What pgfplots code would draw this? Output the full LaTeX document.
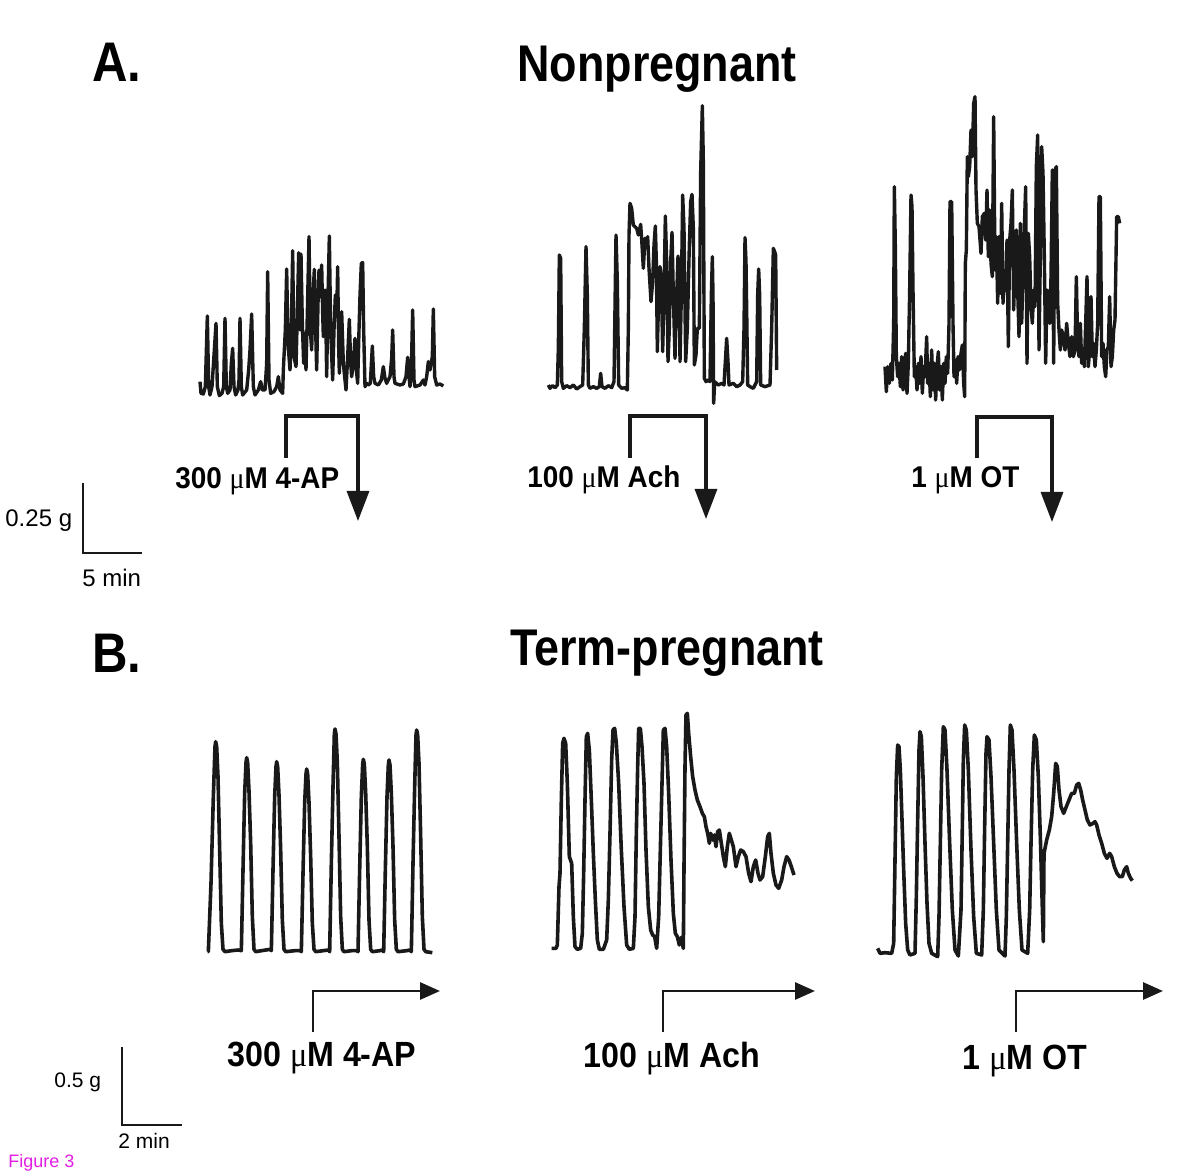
\documentclass[border=0pt]{standalone}
\usepackage{pgfplots}
\pgfplotsset{compat=1.18}
\usepackage{graphicx}
\usepackage{fontspec}
\setmainfont{Liberation Sans}
\newfontfamily\serifmu{Liberation Serif}
\usetikzlibrary{arrows.meta}
\definecolor{trace}{RGB}{25,25,25}
\definecolor{figmag}{RGB}{225,30,225}
\newcommand{\umu}{{\serifmu\mdseries μ}}
\newcommand{\bigtitle}[1]{\fontsize{25.8}{30}\selectfont\bfseries\scalebox{0.87}[1]{#1}}
\newcommand{\lettertitle}[1]{\fontsize{27.9}{32}\selectfont\bfseries\scalebox{0.88}[1]{#1}}
\newcommand{\druga}[1]{\fontsize{15}{18}\selectfont\bfseries\scalebox{0.93}[1]{#1}}
\newcommand{\drugb}[1]{\fontsize{17.5}{21}\selectfont\bfseries\scalebox{0.92}[1]{#1}}
\begin{document}
\begin{tikzpicture}
\begin{axis}[
  scale only axis, width=600pt, height=588pt,
  xmin=0, xmax=1200, ymin=0, ymax=1176, y dir=reverse,
  hide axis, clip=false,
  tra/.style={trace, solid, line width=1.7pt, line join=round, no markers},
  trb/.style={trace, solid, line width=1.8pt, line join=round, no markers},
]
% ---------------- A1 (Nonpregnant, 4-AP) ----------------
\addplot[tra] table[header=false, row sep=\\, x expr=190+\thisrowno{0}/3, y expr=230+\thisrowno{1}/3] {
30 455\\ 33 490\\ 40 492\\ 46 470\\ 52 258\\ 56 470\\ 60 495\\ 66 470\\ 73 360\\ 78 280\\ 82 470\\ 88 497\\ 96 490\\ 101 470\\ 105 265\\ 109 470\\ 113 490\\ 120 480\\ 124 400\\ 128 355\\ 132 470\\ 137 495\\ 144 480\\ 147 450\\ 150 265\\ 154 470\\ 158 495\\ 170 480\\ 176 420\\ 180 360\\ 185 252\\ 190 470\\ 195 495\\ 205 480\\ 212 455\\ 217 480\\ 225 480\\ 230 400\\ 233 125\\ 237 450\\ 242 490\\ 252 485\\ 260 470\\ 265 440\\ 270 480\\ 278 490\\ 280 420\\ 286 300\\ 290 117\\ 294 340\\ 300 420\\ 304 300\\ 308 62\\ 312 380\\ 318 410\\ 322 250\\ 326 68\\ 330 300\\ 333 72\\ 337 280\\ 341 400\\ 344 310\\ 348 420\\ 352 250\\ 357 20\\ 361 300\\ 365 360\\ 369 200\\ 373 118\\ 377 300\\ 380 420\\ 384 220\\ 387 120\\ 391 200\\ 395 105\\ 398 250\\ 400 320\\ 403 250\\ 405 180\\ 408 300\\ 410 440\\ 414 200\\ 418 18\\ 422 300\\ 428 450\\ 432 300\\ 436 195\\ 440 260\\ 443 110\\ 446 350\\ 448 430\\ 452 300\\ 455 245\\ 460 400\\ 468 480\\ 473 380\\ 478 268\\ 482 400\\ 485 440\\ 490 400\\ 495 325\\ 499 420\\ 503 460\\ 507 300\\ 510 195\\ 514 100\\ 518 98\\ 521 300\\ 525 470\\ 530 460\\ 535 465\\ 541 460\\ 547 348\\ 551 440\\ 555 460\\ 565 465\\ 574 450\\ 580 410\\ 585 445\\ 590 460\\ 600 440\\ 605 385\\ 608 300\\ 612 440\\ 615 460\\ 630 465\\ 640 462\\ 648 440\\ 653 382\\ 657 440\\ 660 470\\ 664 420\\ 668 240\\ 672 450\\ 675 470\\ 690 465\\ 700 450\\ 705 465\\ 710 440\\ 715 395\\ 720 420\\ 727 380\\ 730 237\\ 734 440\\ 740 465\\ 750 462\\ 760 468\\
};
% ---------------- A2 (Nonpregnant, Ach) ----------------
\addplot[tra] table[header=false, row sep=\\, x expr=540+\thisrowno{0}/3, y expr=95+\thisrowno{1}/3] {
25 870\\ 30 880\\ 38 872\\ 45 878\\ 52 870\\ 55 760\\ 58 480\\ 62 490\\ 65 860\\ 70 880\\ 80 872\\ 90 878\\ 100 870\\ 110 882\\ 120 875\\ 128 870\\ 133 700\\ 138 455\\ 142 600\\ 145 870\\ 150 880\\ 160 875\\ 170 880\\ 178 875\\ 182 835\\ 186 875\\ 195 880\\ 205 872\\ 215 878\\ 222 860\\ 226 560\\ 228 420\\ 232 560\\ 236 870\\ 245 880\\ 255 878\\ 262 885\\ 265 700\\ 267 420\\ 270 325\\ 275 340\\ 280 390\\ 285 395\\ 290 400\\ 295 420\\ 302 388\\ 306 450\\ 310 520\\ 315 430\\ 320 440\\ 323 425\\ 327 520\\ 333 620\\ 338 560\\ 342 450\\ 346 393\\ 349 500\\ 352 770\\ 356 600\\ 360 515\\ 364 560\\ 368 770\\ 372 600\\ 376 363\\ 380 500\\ 384 800\\ 388 700\\ 392 500\\ 396 412\\ 400 600\\ 405 790\\ 410 600\\ 414 483\\ 418 600\\ 420 800\\ 424 600\\ 428 300\\ 432 400\\ 437 800\\ 442 700\\ 448 450\\ 452 320\\ 456 298\\ 460 400\\ 463 810\\ 468 780\\ 472 700\\ 478 700\\ 482 230\\ 487 32\\ 490 200\\ 493 850\\ 498 860\\ 505 855\\ 510 860\\ 514 600\\ 517 485\\ 519 600\\ 521 925\\ 524 860\\ 535 870\\ 545 865\\ 552 870\\ 556 800\\ 560 730\\ 564 800\\ 567 870\\ 580 865\\ 590 875\\ 600 870\\ 608 860\\ 612 700\\ 615 428\\ 618 500\\ 620 640\\ 623 870\\ 630 875\\ 640 880\\ 650 860\\ 653 600\\ 656 522\\ 659 600\\ 662 870\\ 675 875\\ 690 870\\ 695 700\\ 700 460\\ 704 470\\ 707 480\\ 710 825\\
};
% ---------------- A3 (Nonpregnant, OT) ----------------
\addplot[tra] table[header=false, row sep=\\, x expr=875+\thisrowno{0}/3, y expr=90+\thisrowno{1}/3] {
30 830\\ 34 905\\ 38 830\\ 43 880\\ 48 820\\ 52 870\\ 56 700\\ 58 290\\ 61 470\\ 64 800\\ 68 860\\ 72 820\\ 76 890\\ 80 800\\ 84 900\\ 88 830\\ 92 790\\ 96 910\\ 100 820\\ 104 600\\ 108 315\\ 111 350\\ 114 600\\ 118 860\\ 122 830\\ 126 900\\ 130 820\\ 134 880\\ 138 800\\ 142 910\\ 146 830\\ 150 860\\ 155 740\\ 158 880\\ 162 820\\ 166 920\\ 170 780\\ 174 900\\ 178 820\\ 182 930\\ 186 830\\ 190 785\\ 194 900\\ 198 830\\ 202 930\\ 206 820\\ 210 880\\ 214 800\\ 218 850\\ 222 700\\ 225 335\\ 230 335\\ 234 700\\ 237 860\\ 241 810\\ 245 880\\ 249 800\\ 253 840\\ 258 790\\ 262 765\\ 266 880\\ 269 920\\ 271 520\\ 274 480\\ 277 200\\ 280 260\\ 284 230\\ 288 120\\ 292 200\\ 296 40\\ 300 20\\ 303 300\\ 307 400\\ 312 410\\ 318 490\\ 322 380\\ 328 370\\ 332 450\\ 336 300\\ 340 500\\ 344 360\\ 348 520\\ 352 560\\ 356 80\\ 360 540\\ 364 440\\ 368 640\\ 372 440\\ 376 610\\ 380 340\\ 384 640\\ 388 560\\ 392 600\\ 396 450\\ 400 770\\ 404 450\\ 408 400\\ 412 300\\ 416 660\\ 420 530\\ 424 420\\ 428 600\\ 432 740\\ 436 400\\ 440 700\\ 444 560\\ 448 410\\ 452 290\\ 456 820\\ 460 430\\ 464 500\\ 468 650\\ 472 700\\ 476 600\\ 480 650\\ 484 230\\ 488 135\\ 492 780\\ 496 500\\ 500 170\\ 504 250\\ 508 500\\ 512 820\\ 516 600\\ 520 650\\ 524 700\\ 528 560\\ 532 240\\ 536 820\\ 540 240\\ 544 230\\ 548 640\\ 552 720\\ 556 780\\ 560 720\\ 565 740\\ 570 780\\ 575 700\\ 580 760\\ 585 800\\ 590 740\\ 595 800\\ 600 780\\ 604 560\\ 608 760\\ 612 800\\ 616 700\\ 620 820\\ 624 780\\ 628 830\\ 632 700\\ 636 560\\ 640 830\\ 644 780\\ 648 620\\ 652 800\\ 656 760\\ 660 830\\ 664 780\\ 668 700\\ 672 320\\ 676 320\\ 680 800\\ 684 760\\ 688 830\\ 692 860\\ 696 780\\ 700 770\\ 704 620\\ 708 830\\ 712 800\\ 716 720\\ 720 690\\ 725 380\\ 730 380\\ 734 400\\
};
% ---------------- B1 (Term-pregnant, 4-AP) ----------------
\addplot[trb] table[header=false, row sep=\\, x expr=195+\thisrowno{0}/3, y expr=710+\thisrowno{1}/3] {
38 725\\ 40 725\\ 48 520\\ 55 260\\ 60 110\\ 62 95\\ 65 110\\ 69 200\\ 74 420\\ 79 640\\ 84 718\\ 90 725\\ 110 722\\ 130 720\\ 139 722\\ 144 480\\ 149 250\\ 153 158\\ 155 143\\ 158 158\\ 162 243\\ 167 400\\ 172 620\\ 177 718\\ 182 725\\ 200 722\\ 225 718\\ 229 722\\ 234 480\\ 239 260\\ 243 170\\ 245 155\\ 248 170\\ 252 255\\ 257 420\\ 262 630\\ 267 718\\ 272 725\\ 300 722\\ 315 722\\ 319 725\\ 324 490\\ 329 280\\ 333 192\\ 335 177\\ 338 192\\ 342 277\\ 347 440\\ 352 640\\ 357 718\\ 362 725\\ 385 722\\ 400 720\\ 404 725\\ 409 460\\ 414 230\\ 418 72\\ 420 57\\ 423 72\\ 427 157\\ 432 380\\ 437 620\\ 442 718\\ 447 725\\ 470 722\\ 485 722\\ 489 725\\ 494 480\\ 499 260\\ 503 163\\ 505 148\\ 508 163\\ 512 248\\ 517 410\\ 522 630\\ 527 718\\ 532 725\\ 555 722\\ 562 720\\ 566 725\\ 571 480\\ 576 260\\ 580 165\\ 582 150\\ 585 165\\ 589 250\\ 594 410\\ 599 630\\ 604 718\\ 609 725\\ 635 722\\ 645 720\\ 649 725\\ 654 460\\ 659 230\\ 663 75\\ 665 60\\ 668 75\\ 672 160\\ 677 380\\ 682 620\\ 687 718\\ 692 725\\ 712 728\\
};
% ---------------- B2 (Term-pregnant, Ach) ----------------
\addplot[trb] table[header=false, row sep=\\, x expr=540+\thisrowno{0}/3, y expr=700+\thisrowno{1}/3] {
35 745\\ 48 745\\ 52 735\\ 57 560\\ 60 520\\ 64 300\\ 68 130\\ 72 115\\ 77 130\\ 82 250\\ 88 470\\ 95 490\\ 100 650\\ 105 740\\ 112 748\\ 122 745\\ 127 700\\ 131 520\\ 135 300\\ 139 110\\ 143 100\\ 148 150\\ 154 300\\ 160 460\\ 166 600\\ 172 720\\ 178 748\\ 190 748\\ 200 720\\ 205 600\\ 210 400\\ 215 180\\ 219 90\\ 224 85\\ 229 130\\ 236 250\\ 244 450\\ 252 620\\ 260 735\\ 268 748\\ 280 745\\ 285 650\\ 289 400\\ 293 200\\ 296 85\\ 301 85\\ 306 140\\ 312 250\\ 318 450\\ 325 620\\ 332 690\\ 338 705\\ 344 710\\ 350 745\\ 356 650\\ 361 450\\ 366 250\\ 370 90\\ 375 85\\ 380 140\\ 386 280\\ 393 480\\ 400 640\\ 406 700\\ 412 710\\ 418 735\\ 424 712\\ 430 745\\ 432 500\\ 435 200\\ 438 45\\ 442 40\\ 446 100\\ 452 170\\ 458 230\\ 465 270\\ 472 300\\ 480 320\\ 487 340\\ 493 350\\ 498 380\\ 503 400\\ 508 430\\ 512 400\\ 518 420\\ 523 405\\ 528 440\\ 533 395\\ 538 390\\ 544 430\\ 550 470\\ 556 500\\ 562 440\\ 568 400\\ 574 420\\ 580 440\\ 588 500\\ 595 470\\ 602 450\\ 610 455\\ 618 470\\ 626 520\\ 633 545\\ 640 500\\ 647 480\\ 654 520\\ 660 540\\ 668 530\\ 676 470\\ 683 410\\ 688 400\\ 693 460\\ 700 520\\ 708 555\\ 716 565\\ 725 540\\ 732 500\\ 740 470\\ 747 480\\ 754 500\\ 762 525\\
};
% ---------------- B3 (Term-pregnant, OT) ----------------
\addplot[trb] table[header=false, row sep=\\, x expr=865+\thisrowno{0}/3, y expr=710+\thisrowno{1}/3] {
38 715\\ 45 730\\ 60 728\\ 80 730\\ 86 700\\ 90 450\\ 94 200\\ 98 105\\ 102 110\\ 106 180\\ 111 330\\ 116 480\\ 122 640\\ 128 720\\ 135 735\\ 150 730\\ 154 560\\ 158 330\\ 162 120\\ 165 65\\ 169 80\\ 174 200\\ 180 400\\ 186 580\\ 192 700\\ 200 730\\ 218 740\\ 222 620\\ 226 400\\ 230 180\\ 235 50\\ 240 60\\ 246 180\\ 254 400\\ 262 600\\ 270 720\\ 280 738\\ 288 600\\ 292 350\\ 295 150\\ 299 45\\ 304 60\\ 310 180\\ 318 420\\ 326 620\\ 334 730\\ 350 735\\ 355 600\\ 359 350\\ 363 130\\ 366 80\\ 372 90\\ 378 200\\ 386 400\\ 394 600\\ 402 720\\ 420 738\\ 424 620\\ 428 400\\ 432 180\\ 436 45\\ 441 60\\ 447 180\\ 455 400\\ 463 600\\ 471 720\\ 488 730\\ 494 600\\ 498 400\\ 503 180\\ 508 75\\ 514 90\\ 520 200\\ 526 380\\ 531 560\\ 535 695\\ 537 430\\ 545 390\\ 553 360\\ 560 320\\ 566 250\\ 572 160\\ 577 170\\ 582 240\\ 588 290\\ 596 310\\ 604 290\\ 612 270\\ 620 250\\ 628 250\\ 635 225\\ 641 220\\ 647 240\\ 653 270\\ 660 300\\ 667 330\\ 675 345\\ 684 340\\ 690 335\\ 695 345\\ 702 375\\ 710 400\\ 718 430\\ 726 445\\ 734 430\\ 740 440\\ 748 470\\ 756 490\\ 764 500\\ 772 500\\ 778 480\\ 785 470\\ 790 490\\ 797 505\\ 802 512\\
};
% ---------------- bounding frame (invisible) ----------------
\path (axis cs:0,0) rectangle (axis cs:1200,1176);
% ---------------- titles ----------------
\node[anchor=base west, inner sep=0pt] at (axis cs:92,82) {\lettertitle{A.}};
\node[anchor=base west, inner sep=0pt] at (axis cs:517,82) {\bigtitle{Nonpregnant}};
\node[anchor=base west, inner sep=0pt] at (axis cs:92,672) {\lettertitle{B.}};
\node[anchor=base west, inner sep=0pt] at (axis cs:510,665) {\bigtitle{Term-pregnant}};
% ---------------- A drug brackets ----------------
\draw[trace, line width=1.6pt, -{Triangle[width=11pt,length=15pt]}] (axis cs:286,458) -- (axis cs:286,416) -- (axis cs:358,416) -- (axis cs:358,521);
\draw[trace, line width=1.6pt, -{Triangle[width=11pt,length=15pt]}] (axis cs:630,458) -- (axis cs:630,416) -- (axis cs:706,416) -- (axis cs:706,519);
\draw[trace, line width=1.6pt, -{Triangle[width=11pt,length=15pt]}] (axis cs:977,458) -- (axis cs:977,417) -- (axis cs:1052,417) -- (axis cs:1052,522);
\node[anchor=base west, inner sep=0pt] at (axis cs:175,489) {\druga{300 \umu M 4-AP}};
\node[anchor=base west, inner sep=0pt] at (axis cs:527,488) {\druga{100 \umu M Ach}};
\node[anchor=base west, inner sep=0pt] at (axis cs:911,488) {\druga{1 \umu M OT}};
% ---------------- B drug arrows ----------------
\draw[trace, line width=1.4pt, -{Triangle[width=8.5pt,length=10pt]}] (axis cs:313,1032) -- (axis cs:313,991) -- (axis cs:440,991);
\draw[trace, line width=1.4pt, -{Triangle[width=8.5pt,length=10pt]}] (axis cs:663,1032) -- (axis cs:663,991) -- (axis cs:815,991);
\draw[trace, line width=1.4pt, -{Triangle[width=8.5pt,length=10pt]}] (axis cs:1016,1032) -- (axis cs:1016,991) -- (axis cs:1163,991);
\node[anchor=base west, inner sep=0pt] at (axis cs:227,1066) {\drugb{300 \umu M 4-AP}};
\node[anchor=base west, inner sep=0pt] at (axis cs:583,1067) {\drugb{100 \umu M Ach}};
\node[anchor=base west, inner sep=0pt] at (axis cs:962,1069) {\drugb{1 \umu M OT}};
% ---------------- scale bars ----------------
\draw[trace, line width=1.1pt] (axis cs:83,483) -- (axis cs:83,553) -- (axis cs:142,553);
\node[anchor=base west, inner sep=0pt, font=\fontsize{12}{14}\selectfont] at (axis cs:5,527) {0.25 g};
\node[anchor=base west, inner sep=0pt, font=\fontsize{12}{14}\selectfont] at (axis cs:82,587) {5 min};
\draw[trace, line width=1.1pt] (axis cs:122,1047) -- (axis cs:122,1125) -- (axis cs:182,1125);
\node[anchor=base west, inner sep=0pt, font=\fontsize{10.5}{12}\selectfont] at (axis cs:54,1087) {0.5 g};
\node[anchor=base west, inner sep=0pt, font=\fontsize{10.5}{12}\selectfont] at (axis cs:118,1148) {2 min};
\node[anchor=base west, inner sep=0pt, font=\fontsize{9}{10}\selectfont, text=figmag] at (axis cs:8,1167) {Figure 3};
\end{axis}
\end{tikzpicture}
\end{document}
